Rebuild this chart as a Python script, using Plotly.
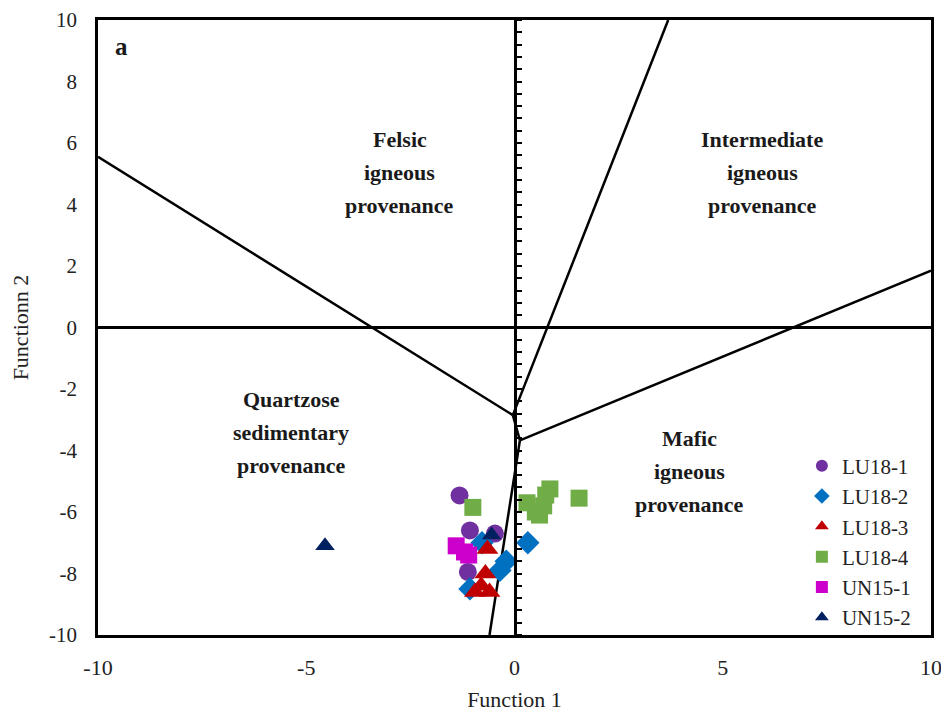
import plotly.graph_objects as go

# ---- data ----
series_names = ["LU18-1", "LU18-2", "LU18-3", "LU18-4", "UN15-1", "UN15-2"]
lu18_1_x = [-1.32, -1.07, -1.12, -0.47]
lu18_1_y = [-5.46, -6.60, -7.95, -6.70]
lu18_2_x = [0.32, -0.20, -0.35, -1.07, -0.78]
lu18_2_y = [-7.00, -7.60, -7.90, -8.50, -7.00]
lu18_3_x = [-0.65, -0.70, -0.80, -0.95, -0.60]
lu18_3_y = [-7.20, -8.00, -8.40, -8.60, -8.60]
lu18_4_x = [-1.00, 0.30, 0.50, 0.60, 0.70, 0.85, 0.75, 1.55]
lu18_4_y = [-5.85, -5.70, -6.00, -6.10, -5.80, -5.25, -5.45, -5.55]
un15_1_x = [-1.40, -1.10, -1.20]
un15_1_y = [-7.10, -7.40, -7.30]
un15_2_x = [-4.55, -0.55]
un15_2_y = [-7.10, -6.75]

# discrimination boundaries (segments separated by None)
bound_x = [-10, -0.04, None, 3.69, -0.04, None, -0.04, 0.13, None, 0.13, 10, None, 0.13, -0.6]
bound_y = [5.55, -2.85, None, 10, -2.85, None, -2.85, -3.67, None, -3.67, 1.85, None, -3.67, -10]

field_labels = [["Felsic", "igneous", "provenance"],
                ["Intermediate", "igneous", "provenance"],
                ["Quartzose", "sedimentary", "provenance"],
                ["Mafic", "igneous", "provenance"]]
field_x = [-2.75, 5.95, -5.36, 4.19]
field_y = [5.04, 5.04, -3.41, -4.68]

y_ticks = [-10, -8, -6, -4, -2, 0, 2, 4, 6, 8, 10]
y_tick_text = ["-10", "-8", "-6", "-4", "-2", "0", "2", "4", "6", "8", "10"]
x_ticks = [-10, -5, 0, 5, 10]
x_tick_text = ["-10", "-5", "0", "5", "10"]

FONT = "Liberation Serif"
series = [
    (lu18_1_x, lu18_1_y, "circle", "#7030A0", 18),
    (lu18_2_x, lu18_2_y, "diamond", "#0070C0", 18),
    (lu18_3_x, lu18_3_y, "triangle-up", "#C00000", 19),
    (lu18_4_x, lu18_4_y, "square", "#70AD47", 17),
    (un15_1_x, un15_1_y, "square", "#CC00CC", 17),
    (un15_2_x, un15_2_y, "triangle-up", "#002060", 17),
]

fig = go.Figure()
fig.add_trace(go.Scatter(x=bound_x, y=bound_y, mode="lines",
                         line=dict(color="black", width=2.5), showlegend=False,
                         hoverinfo="skip"))
for name, (xs, ys, sym, col, sz) in zip(series_names, series):
    fig.add_trace(go.Scatter(x=xs, y=ys, mode="markers", name=name,
                             marker=dict(symbol=sym, color=col, size=sz,
                                         line=dict(width=0))))
# invisible trace for the ticked y-axis at x=0
fig.add_trace(go.Scatter(x=[0, 0], y=[-10, 10], mode="lines", yaxis="y2",
                         line=dict(width=0, color="rgba(0,0,0,0)"),
                         showlegend=False, hoverinfo="skip"))

for lines, fx, fy in zip(field_labels, field_x, field_y):
    for i, ln in enumerate(lines):
        fig.add_annotation(x=fx, y=fy, text="<b>" + ln + "</b>", showarrow=False,
                           yshift=(1 - i) * 33,
                           font=dict(family=FONT, size=22, color="#1a1a1a"),
                           align="center")
fig.add_annotation(x=0.018, y=0.982, xref="paper", yref="paper", text="<b>a</b>",
                   showarrow=False, xanchor="left", yanchor="top",
                   font=dict(family=FONT, size=25, color="#1a1a1a"))

fig.update_layout(
    width=941, height=716,
    margin=dict(l=90, r=18, t=12, b=89),
    paper_bgcolor="white", plot_bgcolor="white",
    font=dict(family=FONT, size=22, color="#222"),
    xaxis=dict(range=[-10, 10], tickvals=x_ticks, ticktext=x_tick_text,
               showgrid=False, zeroline=False, automargin=False,
               showline=True, mirror=True, linecolor="black", linewidth=2.5,
               ticks="", ticklabelstandoff=11,
               title=dict(text="Function 1", font=dict(family=FONT, size=22), standoff=13)),
    yaxis=dict(range=[-10, 10], tickvals=y_ticks, ticktext=y_tick_text,
               showgrid=False, zeroline=True, automargin=False,
               zerolinecolor="black", zerolinewidth=2.5,
               showline=True, mirror=True, linecolor="black", linewidth=2.5,
               ticks="", ticklabelstandoff=14, tickfont=dict(family=FONT, size=21),
               title=dict(text="Functionn 2", font=dict(family=FONT, size=22), standoff=24)),
    yaxis2=dict(range=[-10, 10], overlaying="y", anchor="free", position=0.5,
                side="right", showticklabels=False, showgrid=False, zeroline=False,
                automargin=False,
                showline=True, linecolor="black", linewidth=2.5,
                ticks="outside", tick0=-10, dtick=0.4, ticklen=6, tickwidth=2,
                tickcolor="black"),
    legend=dict(x=0.845, y=0.308, xanchor="left", yanchor="top",
                font=dict(family=FONT, size=21, color="#222"),
                bgcolor="rgba(0,0,0,0)", itemsizing="constant",
                tracegroupgap=0),
    showlegend=True,
)

fig.write_html("out.html")
